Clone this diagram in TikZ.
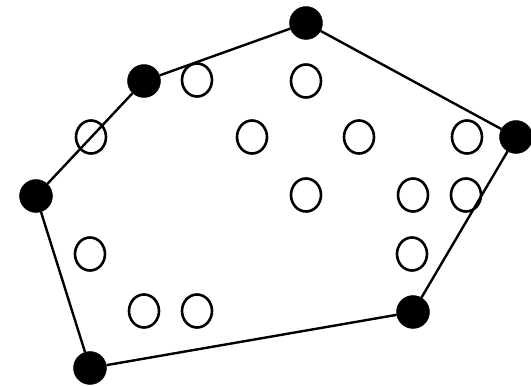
\documentclass[tikz,border=0pt]{standalone}
\usetikzlibrary{shapes.geometric}
\begin{document}
\begin{tikzpicture}[x=1pt,y=1pt,
  hull/.style={circle,fill=black,draw=black,inner sep=0pt,minimum size=33pt},
  pt/.style={ellipse,draw=black,line width=2.6pt,inner sep=0pt,minimum width=30pt,minimum height=33pt},
  edge/.style={draw=black,line width=2.4pt}]
\useasboundingbox (0,0) rectangle (531,386);
% open points
\node[pt] (o1) at (197,306) {};
\node[pt] (o2) at (306,305) {};
\node[pt] (o3) at (91,249) {};
\node[pt] (o4) at (252,249) {};
\node[pt] (o5) at (359,249) {};
\node[pt] (o6) at (467,249) {};
\node[pt] (o7) at (306,191) {};
\node[pt] (o8) at (413,191) {};
\node[pt] (o9) at (466,191) {};
\node[pt] (o10) at (90,132) {};
\node[pt] (o11) at (412,132) {};
\node[pt] (o12) at (144,75) {};
\node[pt] (o13) at (197,75) {};
% hull points
\node[hull] (p1) at (306,363) {};
\node[hull] (p2) at (144,305) {};
\node[hull] (p3) at (36,190) {};
\node[hull] (p4) at (90,18) {};
\node[hull] (p5) at (413,74) {};
\node[hull] (p6) at (516,249) {};
\path[edge] (p1) -- (p6) (p6) -- (p5) (p5) -- (p4) (p4) -- (p3) (p3) -- (p2) (p2) -- (p1);
\end{tikzpicture}
\end{document}
